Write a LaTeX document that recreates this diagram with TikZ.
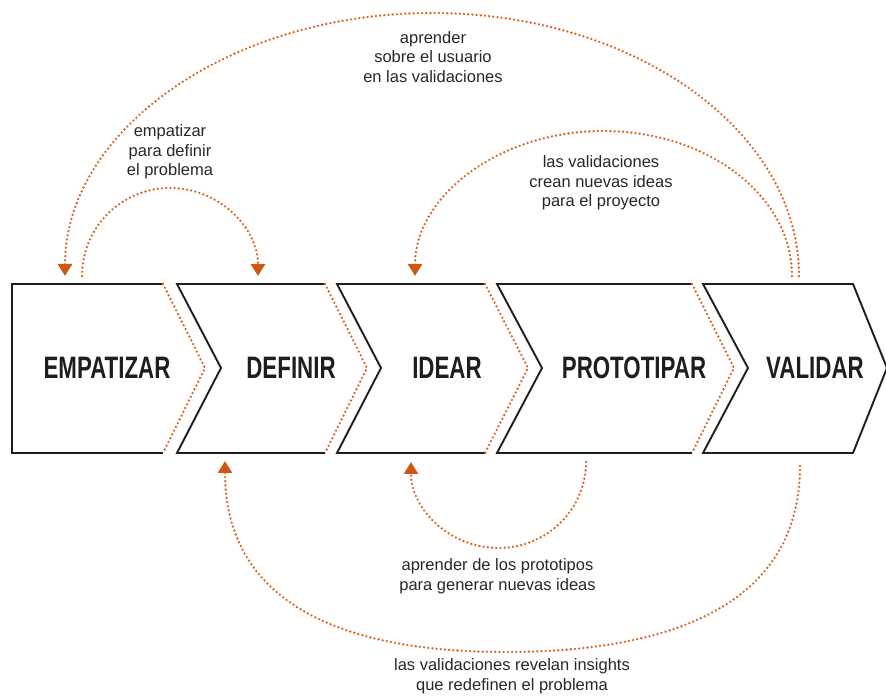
\documentclass[tikz,border=0pt]{standalone}
\usepackage{fontspec}
\setmainfont{Liberation Sans}
\newfontfamily\labelfont{Liberation Sans}[FakeStretch=0.72]
\usetikzlibrary{arrows.meta}
\definecolor{dotc}{RGB}{212,104,36}
\definecolor{arrc}{RGB}{204,88,20}
\definecolor{txtc}{RGB}{40,40,40}
\definecolor{boxc}{RGB}{30,30,30}
\tikzset{
  dotline/.style={draw=dotc, line width=2.6pt, line cap=round, dash pattern=on 0pt off 4.2pt},
  flow/.style={dotline, -{Triangle[width=14pt,length=12pt,color=arrc,fill=arrc]}},
  boxline/.style={draw=boxc, line width=1.9pt, line join=miter},
  lbl/.style={font=\labelfont\bfseries\fontsize{31}{34}\selectfont, text=boxc, inner sep=0pt},
  note/.style={font=\fontsize{16.5}{19.5}\selectfont, text=txtc, align=center, inner sep=0pt},
}
\begin{document}
\begin{tikzpicture}[x=1pt,y=1pt]
\useasboundingbox[fill=white] (0,0) rectangle (886,696);

% boxes: black outlines
\draw[boxline] (163,412) -- (12,412) -- (12,243) -- (163,243);
\draw[boxline] (325,412) -- (177,412) -- (221,328) -- (177,243) -- (325,243);
\draw[boxline] (485,412) -- (337,412) -- (381,328) -- (337,243) -- (485,243);
\draw[boxline] (692,412) -- (497,412) -- (542,328) -- (497,243) -- (692,243);
\draw[boxline] (703,412) -- (853,412) -- (887,328) -- (853,243) -- (703,243) -- (748,328) -- cycle;
% boxes: dotted chevron tips
\draw[dotline] (163,412) -- (205,328) -- (163,243);
\draw[dotline] (325,412) -- (367,328) -- (325,243);
\draw[dotline] (485,412) -- (528,328) -- (485,243);
\draw[dotline] (692,412) -- (734,328) -- (692,243);

% labels
\node[lbl] (emp) at (107,328) {EMPATIZAR};
\node[lbl] (def) at (291,328) {DEFINIR};
\node[lbl] (ide) at (447,328) {IDEAR};
\node[lbl] (pro) at (634,328) {PROTOTIPAR};
\node[lbl] (val) at (815,328) {VALIDAR};

% connector end points
\coordinate (vA) at (799,420);
\coordinate (eA) at (65,420);
\coordinate (vB) at (792,420);
\coordinate (iB) at (415,420);
\coordinate (eC) at (82,420);
\coordinate (dC) at (258,420);
\coordinate (pD) at (586,234);
\coordinate (iD) at (411,234);
\coordinate (vE) at (800,230);
\coordinate (dE) at (225,235);

% connectors
\draw[flow] (vA) arc[start angle=0, end angle=180, x radius=367pt, y radius=263pt];
\draw[flow] (vB) arc[start angle=0, end angle=180, x radius=188.5pt, y radius=145pt];
\draw[flow] (eC) arc[start angle=180, end angle=0, x radius=88pt, y radius=88pt];
\draw[flow] (pD) arc[start angle=0, end angle=-180, x radius=87.5pt, y radius=86pt];
\draw[flow] (vE) .. controls (800,96) and (680,44) .. (505,44) .. controls (330,44) and (225,100) .. (dE);

% texts
\node[note] (tA) at (433,639) {aprender\\sobre el usuario\\en las validaciones};
\node[note] (tC) at (170,544) {empatizar\\para definir\\el problema};
\node[note] (tB) at (601,513) {las validaciones\\crean nuevas ideas\\para el proyecto};
\node[note] (tD) at (497.5,120) {aprender de los prototipos\\para generar nuevas ideas};
\node[note] (tE) at (512,20) {las validaciones revelan insights\\que redefinen el problema};
\end{tikzpicture}
\end{document}
